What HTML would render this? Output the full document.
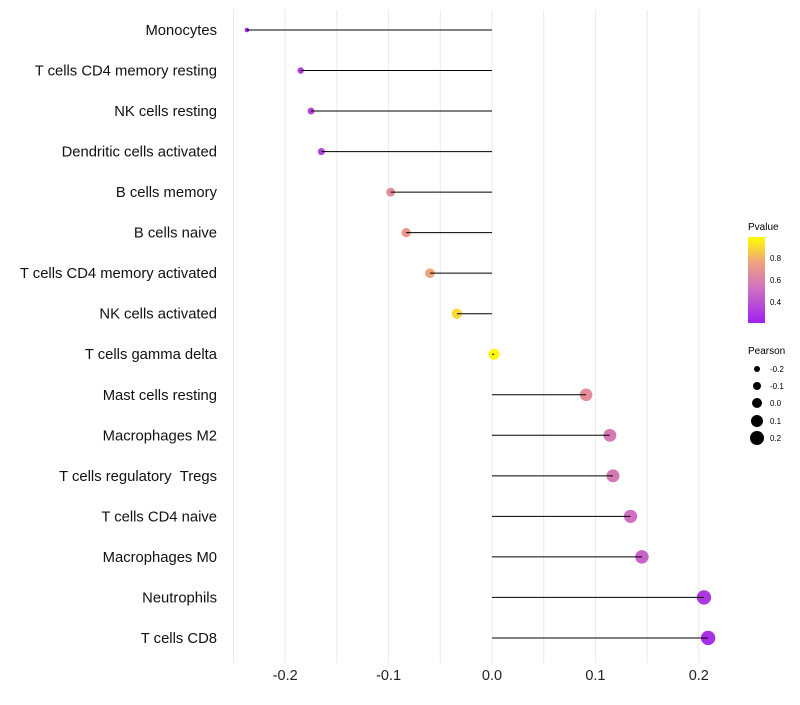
<!DOCTYPE html>
<html><head><meta charset="utf-8"><style>
body{margin:0;background:#fff;font-family:"Liberation Sans",sans-serif}
</style></head><body>
<svg id="c" width="800" height="700" xmlns="http://www.w3.org/2000/svg">
<defs><linearGradient id="pg" x1="0" y1="1" x2="0" y2="0">
<stop offset="0" stop-color="#a020f0"/><stop offset="0.4" stop-color="#d070c0"/><stop offset="0.7" stop-color="#f0a080"/><stop offset="1" stop-color="#ffff00"/>
</linearGradient></defs>
<g id="grid"></g><g id="marks"></g><g id="axes"></g>
<g>
<text x="748" y="230" font-size="10">Pvalue</text>
<rect x="748" y="237" width="17" height="86" fill="url(#pg)"/>
<text x="770" y="261" font-size="8">0.8</text>
<text x="770" y="283" font-size="8">0.6</text>
<text x="770" y="305" font-size="8">0.4</text>
</g>
<g>
<text x="748" y="354" font-size="10">Pearson</text>
<circle cx="757" cy="369" r="3"/><text x="770" y="372" font-size="8">-0.2</text>
<circle cx="757" cy="386" r="4"/><text x="770" y="389" font-size="8">-0.1</text>
<circle cx="757" cy="403" r="5"/><text x="770" y="406" font-size="8">0.0</text>
<circle cx="757" cy="421" r="6"/><text x="770" y="424" font-size="8">0.1</text>
<circle cx="757" cy="438" r="7"/><text x="770" y="441" font-size="8">0.2</text>
</g>
</svg>
<script>
const categories=["Monocytes","T cells CD4 memory resting","NK cells resting","Dendritic cells activated","B cells memory","B cells naive","T cells CD4 memory activated","NK cells activated","T cells gamma delta","Mast cells resting","Macrophages M2","T cells regulatory \u00A0Tregs","T cells CD4 naive","Macrophages M0","Neutrophils","T cells CD8"];
const pearson=[-0.237,-0.185,-0.175,-0.165,-0.098,-0.083,-0.060,-0.034,0.002,0.091,0.114,0.117,0.134,0.145,0.205,0.209];
const pvalue=[0.24,0.32,0.33,0.35,0.65,0.70,0.76,0.90,0.99,0.65,0.55,0.55,0.50,0.45,0.30,0.27];
const xTicks=[-0.2,-0.1,0.0,0.1,0.2];
const NS="http://www.w3.org/2000/svg";
const x=v=>492+v*1034;
const y=i=>30+i*40.53;
const pmin=Math.min(...pearson);
const r=v=>Math.sqrt(5+105*(v-pmin));
function col(p){
 const stops=[[0.22,[160,32,240]],[0.5,[208,112,192]],[0.75,[240,160,128]],[1.0,[255,255,0]]];
 if(p<=stops[0][0])return "rgb("+stops[0][1]+")";
 for(let k=1;k<stops.length;k++){if(p<=stops[k][0]){const a=stops[k-1],b=stops[k],t=(p-a[0])/(b[0]-a[0]);return "rgb("+a[1].map((c,j)=>Math.round(c+(b[1][j]-c)*t)).join(",")+")";}}
 return "rgb(255,255,0)";
}
function mk(t,a,p){const e=document.createElementNS(NS,t);for(const k in a)e.setAttribute(k,a[k]);p.appendChild(e);return e;}
const grid=document.getElementById('grid'),marks=document.getElementById('marks'),axes=document.getElementById('axes');
for(let v=-0.25;v<=0.2001;v+=0.05){
 const g=mk('line',{x1:x(v),x2:x(v),y1:10,y2:663,stroke:'#ebebeb','stroke-width':1},grid);
 
 
}
xTicks.forEach(v=>{
 const t=mk('text',{x:x(v),y:680,'font-size':14.5,'text-anchor':'middle',fill:'#222'},axes);t.textContent=v.toFixed(1);
 
 
});
categories.forEach((c,i)=>{
 const t=mk('text',{x:217,y:y(i)+5,'font-size':14.8,'text-anchor':'end',fill:'#111'},axes);t.textContent=c;
 
 
 const ci=mk('circle',{cx:x(pearson[i]),cy:y(i),r:r(pearson[i]),fill:col(pvalue[i])},marks);
 
 
 const ln=mk('line',{x1:x(0),x2:x(pearson[i]),y1:y(i),y2:y(i),stroke:'#000','stroke-width':1},marks);
 
 
});
</script>
</body></html>
